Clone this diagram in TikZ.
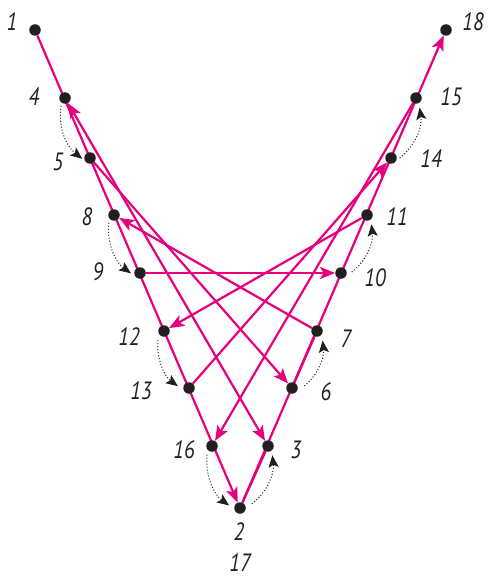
\documentclass[tikz,border=0pt]{standalone}
\usepackage{fontspec}
\setmainfont{PT Sans}
\usepackage{graphicx}
\usetikzlibrary{arrows.meta}
\definecolor{mag}{RGB}{230,0,126}
\definecolor{ink}{RGB}{35,31,32}
\pgfdeclarelayer{bg}
\pgfsetlayers{bg,main}
\newcommand\lbl[1]{\scalebox{0.82}[1]{#1}}
\begin{document}
\begin{tikzpicture}[x=1pt,y=-1pt,
  dot/.style={circle,fill=ink,inner sep=0pt,minimum size=11.5pt},
  lab/.style={font=\fontsize{25}{25}\selectfont\itshape,text=ink,inner sep=0pt},
  edge/.style={draw=mag,line width=2.2pt},
  arr/.style={edge,-{Stealth[length=15pt,width=12pt,inset=3.5pt]}},
  darr/.style={edge,{Stealth[length=15pt,width=12pt,inset=3.5pt]}-{Stealth[length=15pt,width=12pt,inset=3.5pt]}},
  seq/.style={draw=ink,line width=1pt,dash pattern=on 1pt off 2pt,
    -{Stealth[length=12pt,width=10pt,inset=2.5pt]}}
]
\useasboundingbox (0,0) rectangle (488,580);
% dots
\node[dot] (n1)  at (35,30)   {};
\node[dot] (n4)  at (65,98)   {};
\node[dot] (n5)  at (90,158)  {};
\node[dot] (n8)  at (114,215) {};
\node[dot] (n9)  at (140,273) {};
\node[dot] (n12) at (164,331) {};
\node[dot] (n13) at (189,388) {};
\node[dot] (n16) at (212,446) {};
\node[dot] (n2)  at (240,508) {};
\node[dot] (n3)  at (268,446) {};
\node[dot] (n6)  at (292,388) {};
\node[dot] (n7)  at (317,331) {};
\node[dot] (n10) at (341,273) {};
\node[dot] (n11) at (367,215) {};
\node[dot] (n14) at (391,158) {};
\node[dot] (n15) at (416,98)  {};
\node[dot] (n18) at (446,30)  {};
% labels
\node[lab] (l1)  at (12,22)  {\lbl{1}};
\node[lab] (l4)  at (34,97)  {\lbl{4}};
\node[lab] (l5)  at (58,162) {\lbl{5}};
\node[lab] (l8)  at (87,217) {\lbl{8}};
\node[lab] (l9)  at (98,272) {\lbl{9}};
\node[lab] (l12) at (129,337) {\lbl{12}};
\node[lab] (l13) at (141,391) {\lbl{13}};
\node[lab] (l16) at (184,450) {\lbl{16}};
\node[lab] (l2)  at (239,532) {\lbl{2}};
\node[lab] (l17) at (240,563) {\lbl{17}};
\node[lab] (l3)  at (296,450) {\lbl{3}};
\node[lab] (l6)  at (326,392) {\lbl{6}};
\node[lab] (l7)  at (346,339) {\lbl{7}};
\node[lab] (l10) at (375,278) {\lbl{10}};
\node[lab] (l11) at (397,217) {\lbl{11}};
\node[lab] (l14) at (431,159) {\lbl{14}};
\node[lab] (l15) at (451,97)  {\lbl{15}};
\node[lab] (l18) at (473,22)  {\lbl{18}};
% magenta path
\begin{pgfonlayer}{bg}
\draw[arr] (n1) -- (n2);
\draw[edge] (n2) -- (n3);
\draw[darr] (n3) -- (n4);
\draw[arr] (n5) -- (n6);
\draw[edge] (n6) -- (n7);
\draw[arr] (n7) -- (n8);
\draw[arr] (n9) -- (n10);
\draw[arr] (n11) -- (n12);
\draw[arr] (n13) -- (n14);
\draw[arr] (n15) -- (n16);
\draw[arr] (n2) -- (n18);
\end{pgfonlayer}
% dotted order arcs
\draw[seq,shorten <=3pt,shorten >=3pt] (n4.234) to[bend right=30] (n5.207);
\draw[seq,shorten <=4.2pt,shorten >=5pt] (n8.217) to[bend right=30] (n9.213);
\draw[seq,shorten <=6.5pt,shorten >=7pt] (n12.208) to[bend right=30] (n13.203);
\draw[seq,shorten <=4.8pt,shorten >=6.2pt] (n16.221) to[bend right=30] (n2.190);
\draw[seq,shorten <=7.2pt,shorten >=4.8pt] (n2.0) to[bend right=30] (n3.311);
\draw[seq,shorten <=9pt,shorten >=6.2pt] (n6.328) to[bend right=30] (n7.325);
\draw[seq,shorten <=7.2pt,shorten >=4.8pt] (n10.327) to[bend right=30] (n11.311);
\draw[seq,shorten <=4.5pt,shorten >=4.5pt] (n14.331) to[bend right=30] (n15.299);
\end{tikzpicture}
\end{document}
